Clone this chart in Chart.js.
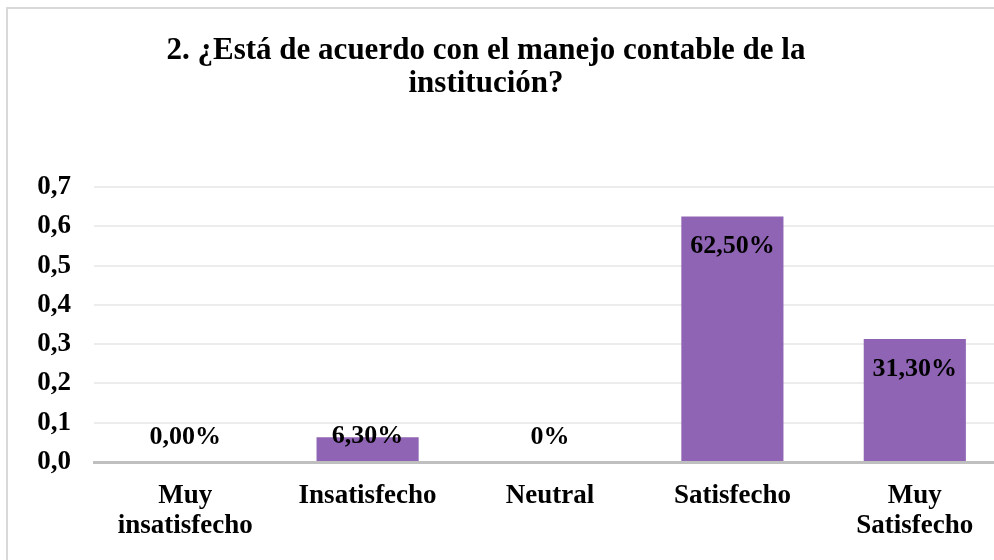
<!DOCTYPE html>
<html><head><meta charset="utf-8">
<script src="https://cdn.jsdelivr.net/npm/chart.js@4.4.1/dist/chart.umd.min.js"></script>
<style>
html,body{margin:0;padding:0;background:#fff;overflow:hidden;width:994px;height:560px;}
#frame{position:absolute;left:6px;top:7px;width:1100px;height:700px;border-left:2px solid #d9d9d9;border-top:2px solid #d9d9d9;}
canvas{position:absolute;left:0;top:0;}
</style></head><body>
<div id="frame"></div>
<canvas id="c" width="1012" height="560"></canvas>
<script>
const titleLines = ["2. ¿Está de acuerdo con el manejo contable de la", "institución?"];
const categories = [["Muy", "insatisfecho"], "Insatisfecho", "Neutral", "Satisfecho", ["Muy", "Satisfecho"]];
const values = [0, 0.063, 0, 0.625, 0.313];
const valueLabels = ["0,00%", "6,30%", "0%", "62,50%", "31,30%"];
const yTicks = [0, 0.1, 0.2, 0.3, 0.4, 0.5, 0.6, 0.7];

const FONT = "'Liberation Serif','Times New Roman',serif";

const labelPlugin = {
  id: 'valLabels',
  afterDatasetsDraw(chart) {
    const ctx = chart.ctx;
    const meta = chart.getDatasetMeta(0);
    ctx.save();
    ctx.font = "bold 26px " + FONT;
    ctx.fillStyle = "#000";
    ctx.textAlign = "center";
    ctx.textBaseline = "middle";
    meta.data.forEach((bar, i) => {
      const h = bar.base - bar.y;
      const y = h > 60 ? bar.y + 30 : bar.base - 25;
      ctx.fillText(valueLabels[i], bar.x, y);
    });
    ctx.restore();
  }
};
const titleShift = {
  id: 'titleShift',
  afterLayout(chart) {
    if (chart.titleBlock) { chart.titleBlock.left = 0; chart.titleBlock.right = 972; }
  }
};

new Chart(document.getElementById('c'), {
  type: 'bar',
  data: {
    labels: categories,
    datasets: [{ data: values, backgroundColor: '#9064b5', categoryPercentage: 1, barPercentage: 0.56 }]
  },
  plugins: [labelPlugin, titleShift],
  options: {
    responsive: false,
    animation: false,
    events: [],
    layout: { padding: { left: 0, right: 6, top: 0, bottom: 0 } },
    plugins: {
      legend: { display: false },
      tooltip: { enabled: false },
      title: {
        display: true,
        text: titleLines,
        color: '#000',
        font: { family: FONT, size: 31, weight: 'bold', lineHeight: 33 / 31 },
        padding: { top: 34, bottom: 87 }
      }
    },
    scales: {
      x: {
        grid: { display: false, drawTicks: false },
        border: { display: true, color: '#bfbfbf', width: 3 },
        ticks: { color: '#000', font: { family: FONT, size: 27, weight: 'bold', lineHeight: 30 / 27 }, padding: 19, maxRotation: 0, autoSkip: false },
        afterFit(s) { s.height = 98; }
      },
      y: {
        min: 0, max: 0.7,
        afterBuildTicks(s) { s.ticks = yTicks.map(v => ({ value: v })); },
        grid: { color: '#ececec', lineWidth: 2, drawTicks: false },
        border: { display: false },
        ticks: {
          color: '#000', padding: 23,
          font: { family: FONT, size: 27, weight: 'bold' },
          callback: v => v.toFixed(1).replace('.', ',')
        },
        afterFit(s) { s.width = 94; }
      }
    }
  }
});
</script>
</body></html>
